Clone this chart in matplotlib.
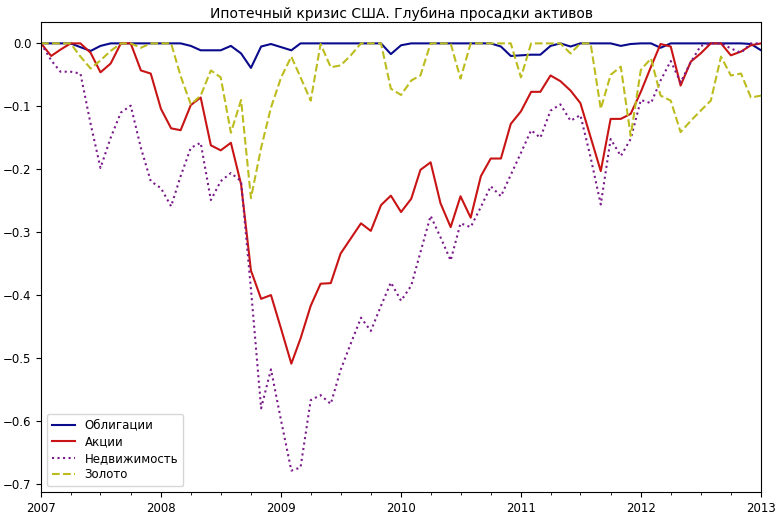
import matplotlib
matplotlib.use("Agg")
import matplotlib.pyplot as plt
import matplotlib.dates as mdates
import pandas as pd

# monthly points, 2007-01 .. 2013-01
dates = pd.date_range("2007-01-01", "2013-01-01", freq="MS")

bonds = [0, 0, 0, 0, -0.006, -0.012, -0.004, 0, 0, 0, 0, 0, 0, 0,
         0, -0.004, -0.011, -0.011, -0.011, -0.004, -0.016, -0.039, -0.005, -0.001,
         -0.006, -0.011, 0, 0, 0, 0, 0, 0, 0, 0, 0, -0.017,
         -0.003, 0, 0, 0, 0, 0, 0, 0, 0, 0, -0.005, -0.02,
         -0.019, -0.018, -0.018, -0.004, 0, -0.005, 0, 0, 0, 0, -0.004, -0.001,
         0, 0, -0.007, 0, 0, 0, 0, 0, 0, 0, 0, -0.001, -0.011]

stocks = [0, -0.02, -0.01, 0, 0, -0.015, -0.046, -0.032, 0, 0, -0.043, -0.048,
          -0.104, -0.135, -0.138, -0.098, -0.086, -0.162, -0.17, -0.158, -0.224, -0.361, -0.406, -0.4,
          -0.454, -0.509, -0.469, -0.417, -0.382, -0.381, -0.334, -0.31, -0.286, -0.298, -0.257, -0.242,
          -0.268, -0.247, -0.201, -0.189, -0.254, -0.292, -0.243, -0.277, -0.211, -0.183, -0.183, -0.128,
          -0.108, -0.077, -0.077, -0.051, -0.06, -0.075, -0.095, -0.149, -0.203, -0.12, -0.12, -0.112,
          -0.077, -0.037, -0.001, -0.005, -0.067, -0.029, -0.016, 0, 0, -0.019, -0.013, -0.003, 0]

realty = [0, -0.027, -0.045, -0.045, -0.048, -0.128, -0.198, -0.15, -0.11, -0.099, -0.166, -0.219,
          -0.23, -0.259, -0.211, -0.166, -0.158, -0.249, -0.219, -0.206, -0.219, -0.39, -0.58, -0.518,
          -0.6, -0.679, -0.674, -0.567, -0.559, -0.573, -0.519, -0.477, -0.436, -0.457, -0.417, -0.38,
          -0.409, -0.385, -0.332, -0.274, -0.308, -0.345, -0.286, -0.292, -0.26, -0.227, -0.243, -0.209,
          -0.174, -0.138, -0.15, -0.107, -0.097, -0.123, -0.114, -0.181, -0.256, -0.152, -0.179, -0.152,
          -0.09, -0.095, -0.059, -0.028, -0.062, -0.03, -0.004, 0, 0, -0.008, -0.015, 0, 0]

gold = [0, 0, 0, 0, -0.021, -0.04, -0.027, -0.012, 0, 0, -0.007, 0,
        0, 0, -0.052, -0.097, -0.083, -0.043, -0.054, -0.142, -0.09, -0.246, -0.166, -0.102,
        -0.054, -0.021, -0.054, -0.091, -0.001, -0.038, -0.035, -0.019, 0, 0, 0, -0.072,
        -0.082, -0.059, -0.051, 0, 0, 0, -0.056, 0, 0, 0, 0, 0,
        -0.054, 0, 0, 0, 0, -0.016, 0, 0, -0.104, -0.05, -0.037, -0.147,
        -0.042, -0.024, -0.083, -0.091, -0.141, -0.123, -0.107, -0.091, -0.021, -0.051, -0.048, -0.086, -0.083]

df = pd.DataFrame({"Облигации": bonds, "Акции": stocks,
                   "Недвижимость": realty, "Золото": gold}, index=dates)

fig = plt.figure(figsize=(7.83, 5.18), dpi=100)
ax = fig.add_axes([0.0524, 0.0502, 0.9196, 0.9073])

ax.plot(df.index, df["Облигации"], color="#0a0a8c", lw=1.5, label="Облигации")
ax.plot(df.index, df["Акции"], color="#c81414", lw=1.5, label="Акции")
ax.plot(df.index, df["Недвижимость"], color="#7a1a8a", lw=1.5, ls=":", label="Недвижимость")
ax.plot(df.index, df["Золото"], color="#bcbc1e", lw=1.5, ls="--", label="Золото")

ax.set_xlim(dates[0], dates[-1])
ax.xaxis.set_major_locator(mdates.YearLocator())
ax.xaxis.set_minor_locator(mdates.MonthLocator(bymonth=[4, 7, 10]))
ax.xaxis.set_major_formatter(mdates.DateFormatter("%Y"))
ax.tick_params(labelsize=8.5)
ax.set_title("Ипотечный кризис США. Глубина просадки активов", fontsize=10, pad=3)
ax.legend(loc="lower left", fontsize=8.5, labelspacing=0.3)

fig.savefig("out.png", dpi=100)
